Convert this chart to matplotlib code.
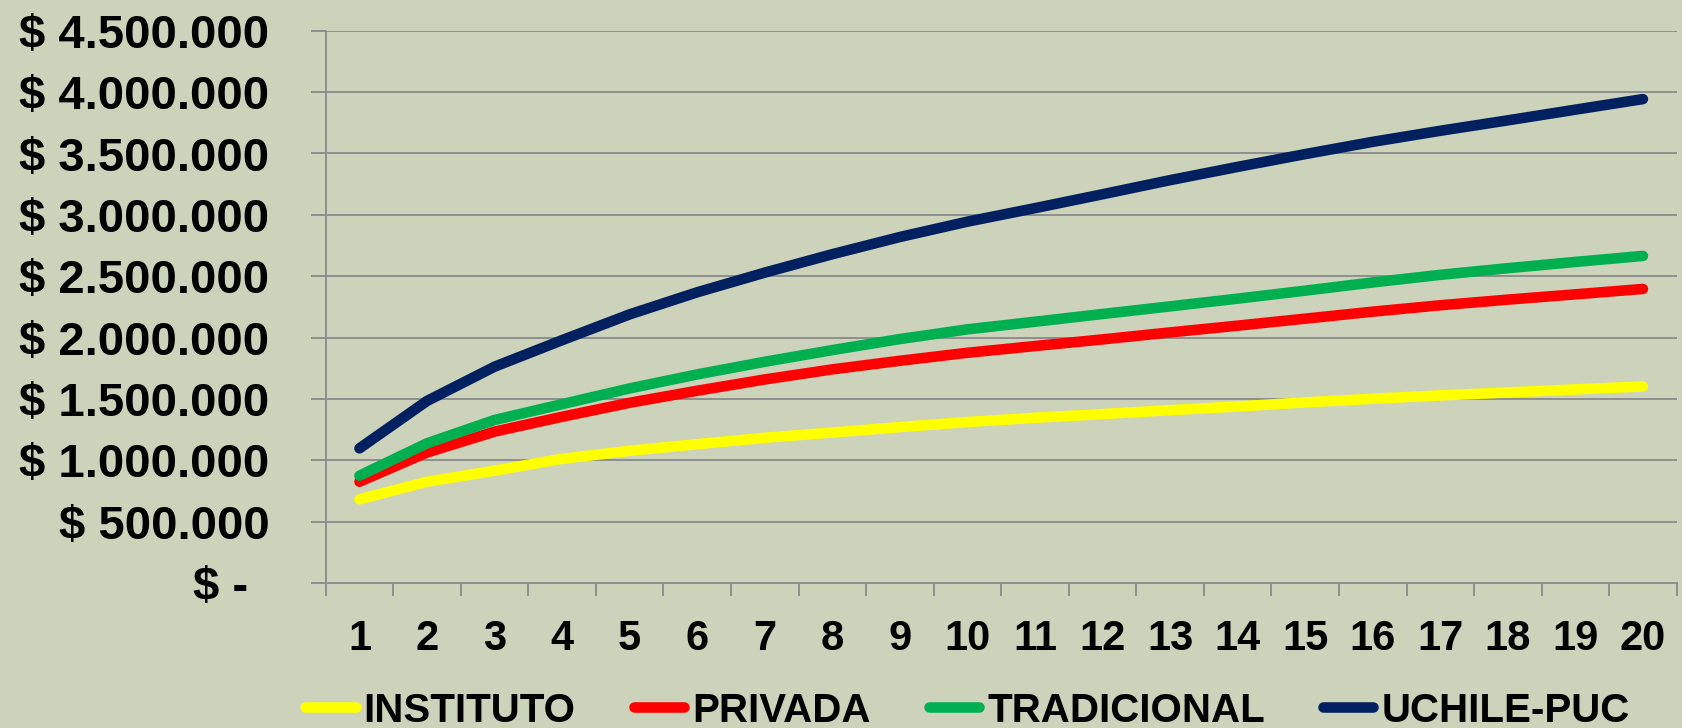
import matplotlib
matplotlib.use("Agg")
import matplotlib.pyplot as plt
import matplotlib.transforms as mtransforms
from matplotlib.ticker import FixedLocator, MultipleLocator

# ---------------- data ----------------
years = list(range(1, 21))
instituto = [684000, 827000, 917000, 1014000, 1079000, 1133000, 1185000, 1228000, 1272000, 1313000,
             1348000, 1378000, 1410000, 1440000, 1473000, 1503000, 1530000, 1554000, 1579000, 1603000]
privada = [827000, 1065000, 1235000, 1356000, 1470000, 1568000, 1660000, 1742000, 1812000, 1877000,
           1932000, 1986000, 2043000, 2098000, 2155000, 2212000, 2264000, 2310000, 2353000, 2397000]
tradicional = [876000, 1140000, 1330000, 1459000, 1587000, 1701000, 1804000, 1899000, 1989000, 2068000,
               2130000, 2193000, 2255000, 2318000, 2383000, 2450000, 2512000, 2566000, 2617000, 2666000]
uchile_puc = [1099000, 1485000, 1764000, 1980000, 2190000, 2370000, 2530000, 2680000, 2820000, 2945000,
              3055000, 3168000, 3283000, 3391000, 3495000, 3595000, 3685000, 3770000, 3857000, 3943000]

series_names = ["INSTITUTO", "PRIVADA", "TRADICIONAL", "UCHILE-PUC"]
series_colors = ["#FFFF00", "#FF0000", "#00B050", "#002060"]

ytick_values = [0, 500000, 1000000, 1500000, 2000000, 2500000, 3000000, 3500000, 4000000, 4500000]
ytick_labels = ["$ -", "$ 500.000", "$ 1.000.000", "$ 1.500.000", "$ 2.000.000", "$ 2.500.000",
                "$ 3.000.000", "$ 3.500.000", "$ 4.000.000", "$ 4.500.000"]
xtick_labels = [str(y) for y in years]

# ---------------- style ----------------
BG = "#CDD2BA"
GRID = "#8E8E8E"
W, H, DPI = 1683, 728, 100

fig = plt.figure(figsize=(W / DPI, H / DPI), dpi=DPI, facecolor=BG)
left, right = 325.7 / W, 1676.7 / W
top, bottom = 1 - 30.7 / H, 1 - 583.3 / H
ax = fig.add_axes([left, bottom, right - left, top - bottom], facecolor=BG)

all_series = [instituto, privada, tradicional, uchile_puc]
for name, col, vals in zip(series_names, series_colors, all_series):
    ax.plot(years, vals, color=col, lw=7.6, solid_capstyle="round",
            solid_joinstyle="round", label=name, zorder=3)

ax.set_xlim(0.5, 20.5)
ax.set_ylim(0, 4500000)

# y axis
ax.yaxis.set_major_locator(FixedLocator(ytick_values))
ax.set_yticklabels(ytick_labels)
ax.tick_params(axis="y", which="major", direction="out", length=10.5, width=1.4,
               color=GRID, pad=30, labelsize=34, labelcolor="black")
for lab in ax.get_yticklabels():
    lab.set_fontfamily(["Liberation Sans", "DejaVu Sans"])
    lab.set_fontweight("bold")

# x axis
ax.set_xticks(years)
ax.set_xticklabels(xtick_labels)
ax.xaxis.set_minor_locator(MultipleLocator(1, offset=0.5))
ax.tick_params(axis="x", which="major", length=0, pad=26, labelsize=30, labelcolor="black")
ax.tick_params(axis="x", which="minor", direction="out", length=9.5, width=1.4, color=GRID)
for lab in ax.get_xticklabels():
    lab.set_fontfamily(["Liberation Sans", "DejaVu Sans"])
    lab.set_fontweight("bold")

ax.grid(axis="y", color=GRID, lw=1.4, zorder=1)
ax.set_axisbelow(True)
for s in ["top", "right"]:
    ax.spines[s].set_visible(False)
for s in ["left", "bottom"]:
    ax.spines[s].set_color(GRID)
    ax.spines[s].set_linewidth(1.4)

# shift the "$ -" label left (accounting format padding)
zero_lab = ax.get_yticklabels()[0]
zero_lab.set_transform(zero_lab.get_transform() +
                       mtransforms.ScaledTranslation(-21 / DPI, 0, fig.dpi_scale_trans))

# legend
leg = fig.legend(loc="center", bbox_to_anchor=(967.4 / W, 1 - 710.5 / H), ncol=4,
                 frameon=False, borderpad=0, borderaxespad=0,
                 handlelength=1.25, handletextpad=0.2, columnspacing=1.44,
                 prop={"family": ["Liberation Sans", "DejaVu Sans"],
                       "weight": "bold", "size": 29})
for line in leg.get_lines():
    line.set_linewidth(7.6)
    line.set_solid_capstyle("round")

fig.savefig("out.png", dpi=DPI, facecolor=BG)
